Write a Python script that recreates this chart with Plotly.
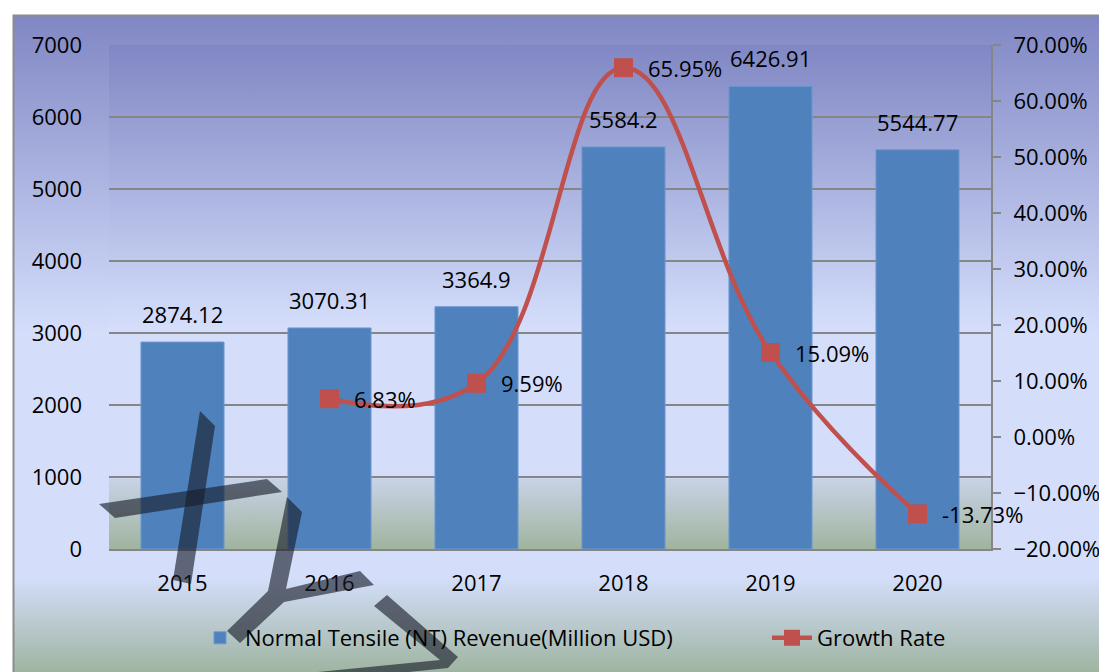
import base64
import plotly.graph_objects as go

# ---------------- data ----------------
years = ["2015", "2016", "2017", "2018", "2019", "2020"]
revenue = [2874.12, 3070.31, 3364.9, 5584.2, 6426.91, 5544.77]
revenue_labels = ["2874.12", "3070.31", "3364.9", "5584.2", "6426.91", "5544.77"]
growth_years = ["2016", "2017", "2018", "2019", "2020"]
growth = [0.0683, 0.0959, 0.6595, 0.1509, -0.1373]
growth_labels = ["6.83%", "9.59%", "65.95%", "15.09%", "-13.73%"]
bar_name = "Normal Tensile (NT) Revenue(Million USD)"
line_name = "Growth Rate"

# ---------------- layout geometry ----------------
OFF = 8                      # page body margin of the html page
W, H = 1107 - OFF, 672 - OFF
ML, MR, MT, MB = 109 - OFF, 116, 45 - OFF, 123
PW, PH = W - ML - MR, H - MT - MB
FONT = "Open Sans"
FS = 22

BLUE = "#4f81bd"
RED = "#c0504d"
GRID = "#868686"

# background gradients (decoration) as an SVG image, drawn in reference pixels
bg_svg = f'''<svg xmlns="http://www.w3.org/2000/svg" width="{W}" height="{H}" viewBox="0 0 {W} {H}">
<defs>
<linearGradient id="o" x1="0" y1="0" x2="0" y2="1">
<stop offset="0" stop-color="rgb(128,135,196)"/>
<stop offset="0.48" stop-color="rgb(212,222,251)"/>
<stop offset="0.85" stop-color="rgb(212,222,251)"/>
<stop offset="1" stop-color="rgb(157,179,158)"/>
</linearGradient>
<linearGradient id="p" x1="0" y1="0" x2="0" y2="1">
<stop offset="0" stop-color="rgb(128,135,196)"/>
<stop offset="0.56" stop-color="rgb(212,222,251)"/>
<stop offset="0.857" stop-color="rgb(212,222,251)"/>
<stop offset="0.862" stop-color="rgb(200,210,230)"/>
<stop offset="1" stop-color="rgb(160,180,158)"/>
</linearGradient>
</defs>
<g transform="translate({-OFF},{-OFF})">
<rect x="0" y="0" width="1107" height="672" fill="white"/>
<rect x="13.5" y="15.5" width="1110" height="660" fill="url(#o)" stroke="#8c8c8c" stroke-width="2"/>
<rect x="109" y="45" width="882" height="504" fill="url(#p)"/>
</g>
</svg>'''

wm_svg = f'''<svg xmlns="http://www.w3.org/2000/svg" width="{W}" height="{H}" viewBox="0 0 {W} {H}">
<g transform="translate({-OFF},{-OFF})" fill="rgb(22,28,40)" fill-opacity="0.62">
<polygon points="99,504 267,479 282,492 115,518"/>
<polygon points="200,411 215,426 191,584 173,580"/>
<polygon points="287,497 302,512 286,589 360,571 374,585 284,602 240,643 227,631 268,591"/>
<polygon points="374,606 387,595 458,657 448,668 330,680 318,672 440,660"/>
</g>
</svg>'''


def uri(svg):
    return "data:image/svg+xml;base64," + base64.b64encode(svg.encode()).decode()


full = dict(xref="paper", yref="paper", x=-ML / PW, y=1 + MT / PH,
            sizex=W / PW, sizey=H / PH, xanchor="left", yanchor="top",
            sizing="stretch")

fig = go.Figure()
fig.add_trace(go.Bar(
    x=years, y=revenue, name=bar_name, legend="legend",
    marker=dict(color=BLUE, line=dict(color="#6c98cf", width=1)),
))
fig.add_trace(go.Scatter(
    x=growth_years, y=growth, name=line_name, yaxis="y2", legend="legend2",
    mode="lines+markers",
    line=dict(color=RED, width=4.5, shape="spline", smoothing=1.2),
    marker=dict(symbol="square", size=19, color=RED),
))

annotations = []
for yr, v, t in zip(years, revenue, revenue_labels):
    annotations.append(dict(x=years.index(yr), y=v, xref="x", yref="y",
                            text=t, showarrow=False, yanchor="bottom",
                            yshift=11,
                            font=dict(family=FONT, size=FS, color="black")))
for yr, v, t in zip(growth_years, growth, growth_labels):
    annotations.append(dict(x=years.index(yr), y=v, xref="x", yref="y2",
                            text=t, showarrow=False, xanchor="left",
                            xshift=22, yanchor="middle",
                            font=dict(family=FONT, size=FS, color="black")))

leg_common = dict(orientation="h", xanchor="left", y=(549 - 638) / PH,
                  yanchor="middle", bgcolor="rgba(0,0,0,0)",
                  font=dict(size=FS), itemwidth=40)

fig.update_layout(
    template="none",
    width=W, height=H,
    margin=dict(l=ML, r=MR, t=MT, b=MB, pad=0, autoexpand=False),
    paper_bgcolor="white",
    plot_bgcolor="rgba(0,0,0,0)",
    font=dict(family=FONT, size=FS, color="black"),
    bargap=0.435,
    showlegend=True,
    legend=dict(x=(195 - 109) / 882, **leg_common),
    legend2=dict(x=(767 - 109) / 882, **leg_common),
    xaxis=dict(type="category", range=[-0.5, len(years) - 0.5],
               showline=True, linecolor=GRID, linewidth=2,
               ticks="", showgrid=False, ticklabelstandoff=14,
               automargin=False, tickfont=dict(size=FS)),
    yaxis=dict(range=[0, 7000], dtick=1000, showgrid=True, gridcolor=GRID,
               gridwidth=2, zeroline=False, showline=False, ticks="",
               ticklabelstandoff=26, automargin=False,
               tickfont=dict(size=FS)),
    yaxis2=dict(range=[-0.2, 0.7], dtick=0.1, tickformat=".2%",
                overlaying="y", side="right", showgrid=False, zeroline=False,
                showline=True, linecolor=GRID, linewidth=2, ticks="outside",
                ticklen=8, tickcolor=GRID, tickwidth=2,
                ticklabelstandoff=8, automargin=False,
                tickfont=dict(size=FS)),
    annotations=annotations,
    images=[dict(source=uri(bg_svg), layer="below", **full),
            dict(source=uri(wm_svg), layer="above", **full)],
)

fig.write_html("out.html")
